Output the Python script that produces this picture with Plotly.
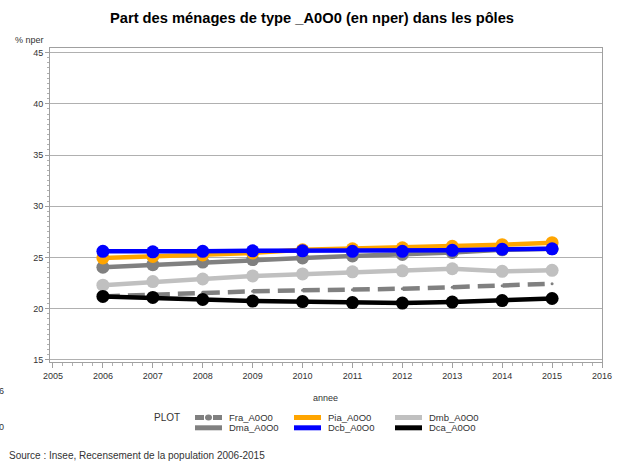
import plotly.graph_objects as go

years = [2006, 2007, 2008, 2009, 2010, 2011, 2012, 2013, 2014, 2015]
fra = [21.2, 21.4, 21.6, 21.7, 21.8, 21.85, 21.95, 22.1, 22.25, 22.45]
dma = [24.05, 24.3, 24.55, 24.8, 24.95, 25.15, 25.3, 25.5, 25.75, 25.85]
pia = [24.95, 25.1, 25.25, 25.45, 25.75, 25.85, 25.95, 26.1, 26.25, 26.45]
dcb = [25.6, 25.55, 25.6, 25.65, 25.65, 25.6, 25.6, 25.7, 25.8, 25.85]
dmb = [22.3, 22.65, 22.9, 23.2, 23.4, 23.6, 23.7, 23.9, 23.65, 23.75]
dca = [21.2, 21.1, 20.9, 20.75, 20.7, 20.6, 20.55, 20.65, 20.8, 21.0]

x_ticks = list(range(2005, 2017))
y_ticks = [15, 20, 25, 30, 35, 40, 45]

series = [
    ("Fra_A0O0", fra, "#808080", "dash", 3),
    ("Dma_A0O0", dma, "#808080", "solid", 13),
    ("Dmb_A0O0", dmb, "#C0C0C0", "solid", 13),
    ("Pia_A0O0", pia, "#FFA500", "solid", 13),
    ("Dcb_A0O0", dcb, "#0000FF", "solid", 13),
    ("Dca_A0O0", dca, "#000000", "solid", 13),
]

fig = go.Figure()
for name, vals, col, dash, ms in series:
    fig.add_trace(go.Scatter(
        x=years, y=vals, name=name, mode="lines+markers",
        line=dict(color=col, width=4.5, dash="17px,8px" if dash == "dash" else None),
        marker=dict(color=col, size=ms),
        showlegend=False,
    ))

L, R, T, B = 50, 22, 48, 104
W, H = 624, 466
pw, ph = W - L - R, H - T - B

def px(xp):
    return (xp - L) / pw

def py(yp):
    return (H - B - yp) / ph

font = "Liberation Sans, Arial, sans-serif"
tc = "#333333"

fig.update_layout(
    width=W, height=H,
    margin=dict(l=L, r=R, t=T, b=B),
    paper_bgcolor="white", plot_bgcolor="white",
    font=dict(family=font, size=9, color=tc),
    title=dict(text="<b>Part des ménages de type _A0O0 (en nper) dans les pôles</b>",
               x=0.5, xanchor="center", y=1 - 18 / H, yanchor="middle",
               font=dict(size=14.7, color="black", family=font)),
    xaxis=dict(range=[2004.94, 2016.0], tickvals=x_ticks, ticktext=[str(v) for v in x_ticks],
               showgrid=False, zeroline=False, showline=True, linecolor="#A0A0A0", mirror=True,
               ticks="outside", ticklen=5, tickcolor="#A0A0A0",
               minor=dict(dtick=0.2, ticks="outside", ticklen=3, tickcolor="#B0B0B0"),
               tickfont=dict(size=9, color=tc)),
    yaxis=dict(range=[14.8, 45.45], tickvals=y_ticks, showgrid=True, gridcolor="#B0B0B0",
               gridwidth=1, zeroline=False, showline=True, linecolor="#A0A0A0", mirror=True,
               ticks="outside", ticklen=4, tickcolor="#A0A0A0",
               minor=dict(dtick=0.5, ticks="outside", ticklen=2, tickcolor="#B0B0B0"),
               tickfont=dict(size=9, color=tc)),
)

def text_ann(text, x, y, size=9, anchor="left"):
    return dict(text=text, x=px(x), y=py(y), xref="paper", yref="paper",
                xanchor=anchor, yanchor="middle", showarrow=False,
                font=dict(size=size, color=tc))

ann = [
    text_ann("% nper", 13, 40),
    text_ann("annee", 325.5, 398, anchor="center"),
    text_ann("6", -3, 391),
    text_ann("0", -3, 427),
    text_ann("PLOT", 152, 417.5, size=10),
    text_ann("Source : Insee, Recensement de la population 2006-2015", 7, 455, size=10),
]

shapes = []
leg_pos = {
    "Fra_A0O0": (195, 417.5), "Pia_A0O0": (294, 417.5), "Dmb_A0O0": (395, 417.5),
    "Dma_A0O0": (195, 427.8), "Dcb_A0O0": (294, 427.8), "Dca_A0O0": (395, 427.8),
}
for name, vals, col, dash, ms in series:
    x0, y0 = leg_pos[name]
    if dash == "dash":
        shapes.append(dict(type="line", xref="paper", yref="paper", x0=px(x0), x1=px(x0 + 9),
                           y0=py(y0), y1=py(y0), line=dict(color=col, width=5)))
        shapes.append(dict(type="line", xref="paper", yref="paper", x0=px(x0 + 18), x1=px(x0 + 27),
                           y0=py(y0), y1=py(y0), line=dict(color=col, width=5)))
        shapes.append(dict(type="circle", xref="paper", yref="paper", x0=px(x0 + 10), x1=px(x0 + 17),
                           y0=py(y0 - 3), y1=py(y0 + 3), fillcolor=col, line=dict(width=0)))
    else:
        shapes.append(dict(type="line", xref="paper", yref="paper", x0=px(x0), x1=px(x0 + 27),
                           y0=py(y0), y1=py(y0), line=dict(color=col, width=5)))
    ann.append(text_ann(name, x0 + 32, y0, size=9.5))

fig.update_layout(annotations=ann, shapes=shapes)
fig.write_html("out.html", config={"displayModeBar": False})

with open("out.html", "r", encoding="utf-8") as f:
    html = f.read()
html = html.replace("<body>", '<body style="margin:0;padding:0;">', 1)
html = html.replace("<head>", '<head><style>html,body{margin:0;padding:0;}</style>', 1)
with open("out.html", "w", encoding="utf-8") as f:
    f.write(html)
